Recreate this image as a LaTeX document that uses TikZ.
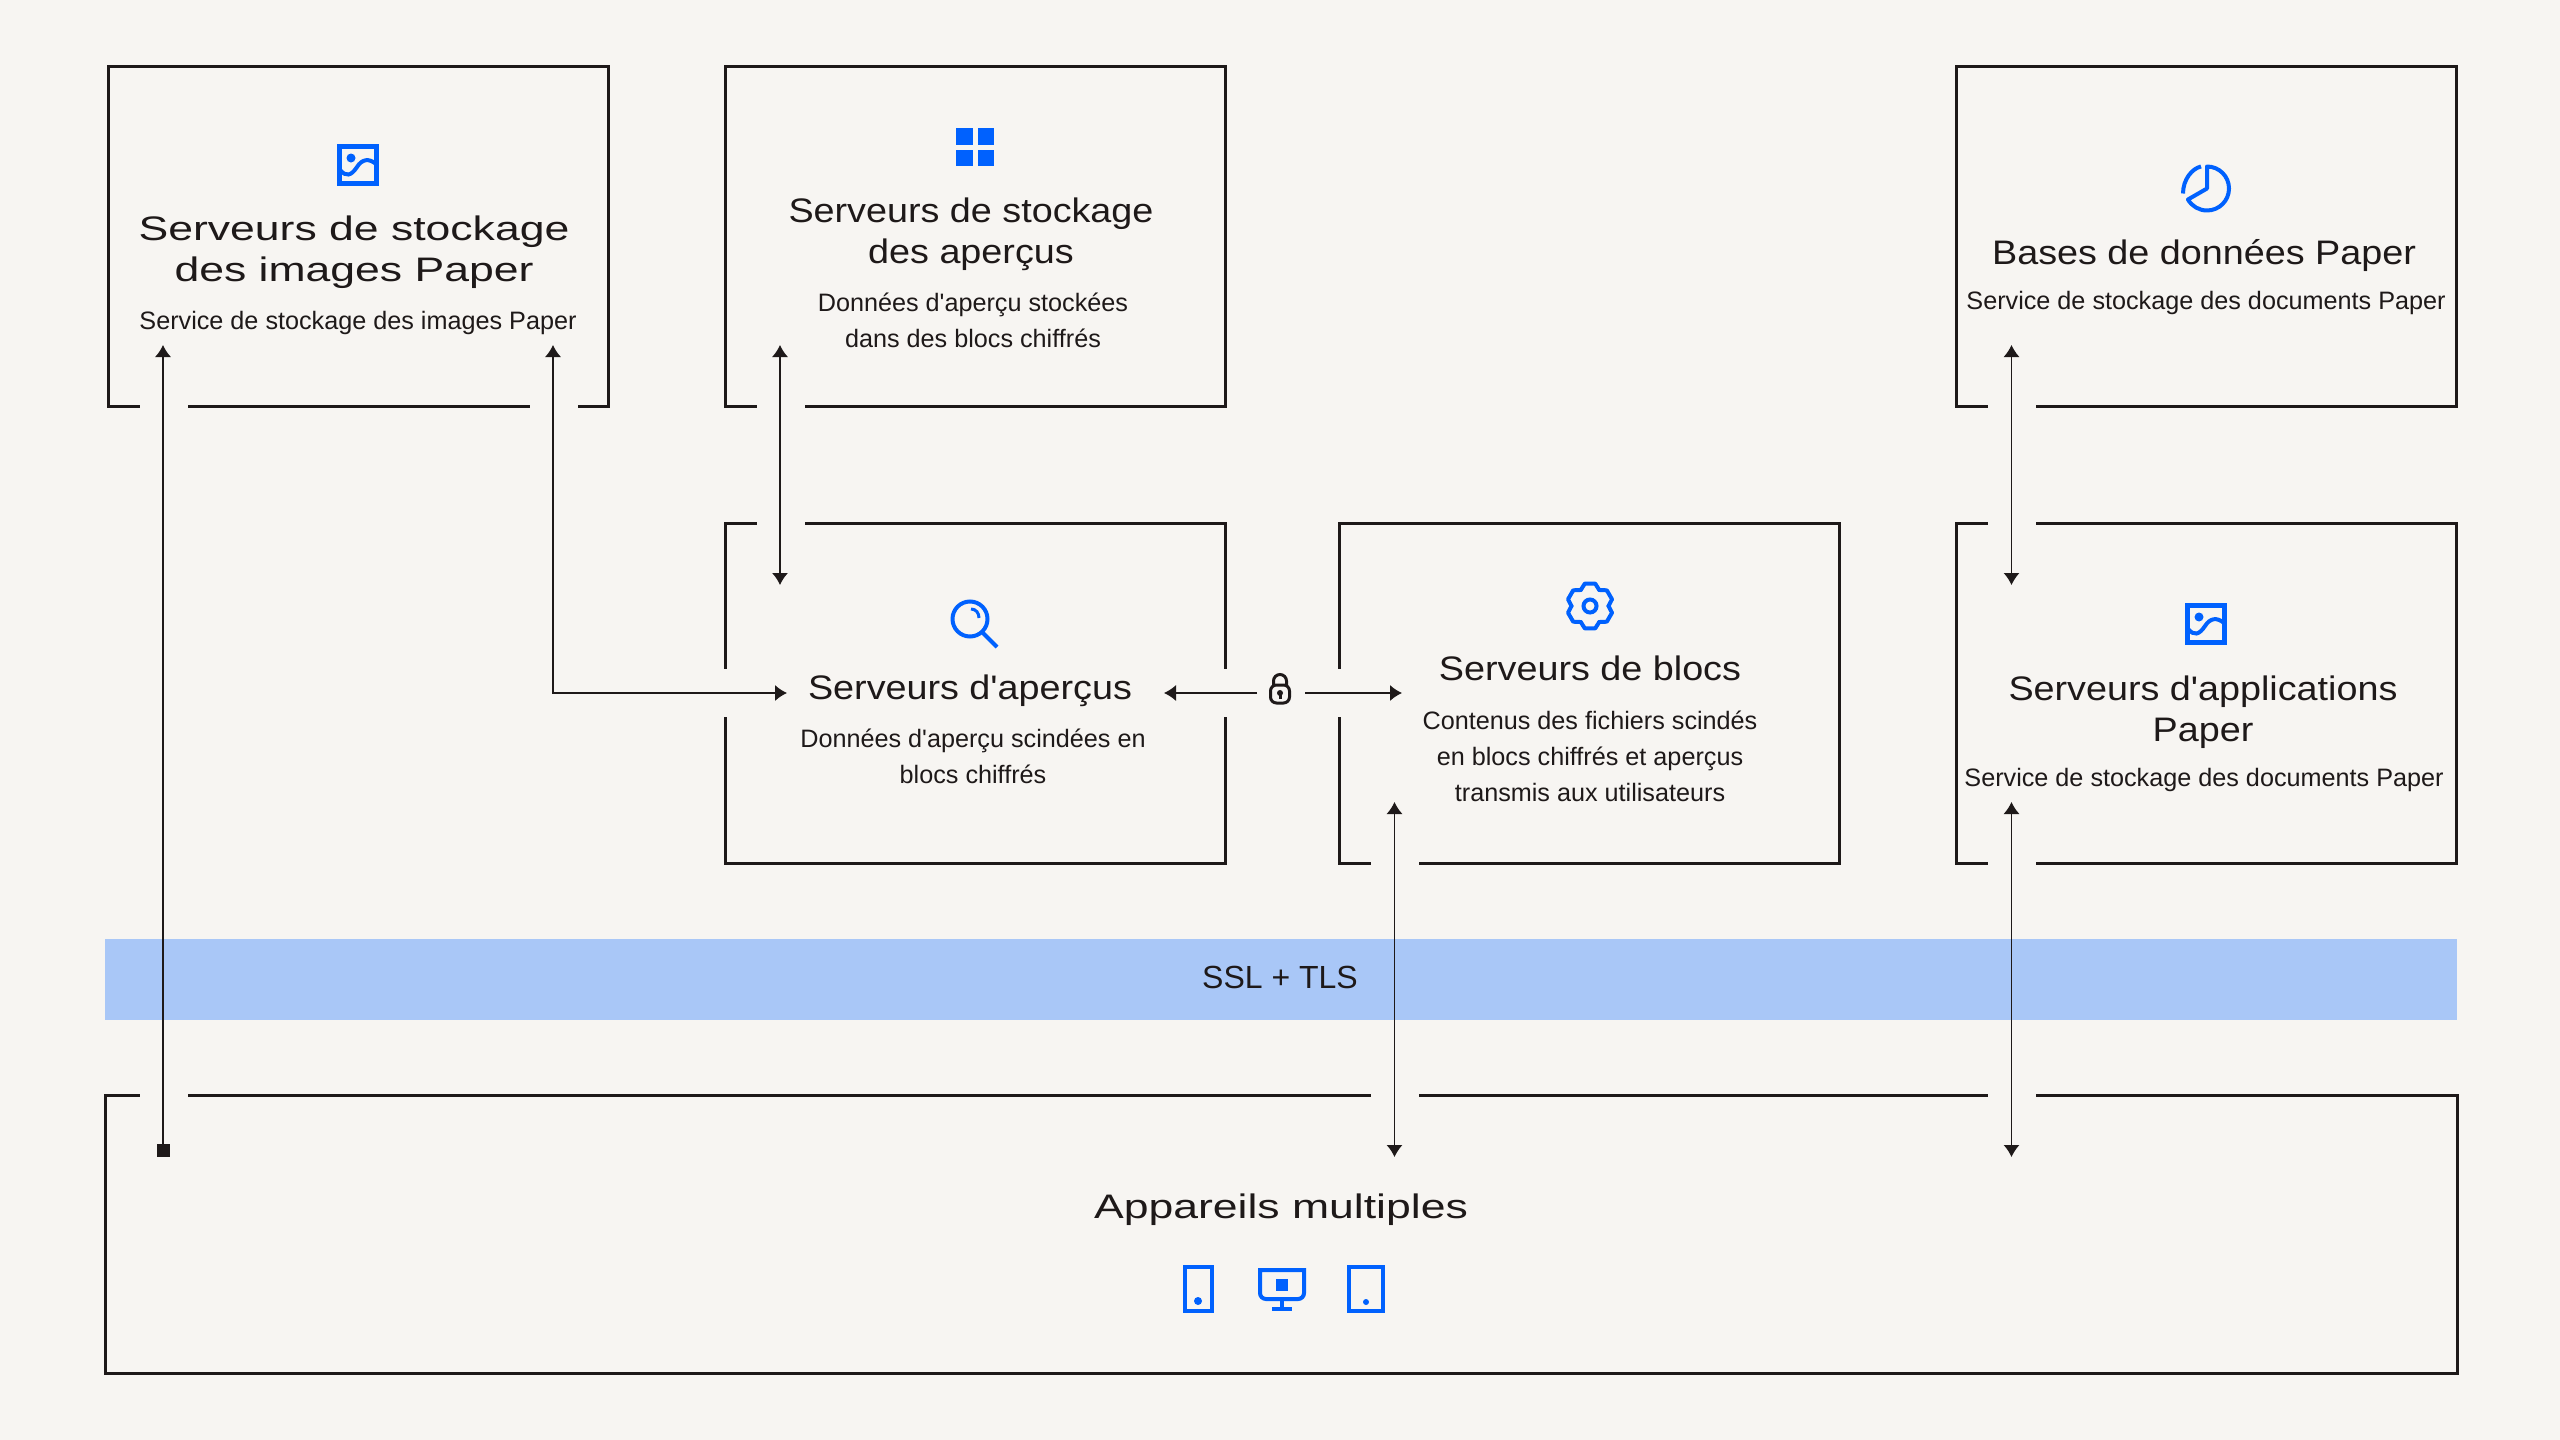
\documentclass[tikz,border=0pt]{standalone}
\usepackage{fontspec}
\usetikzlibrary{arrows.meta}
\newfontfamily\titlefont[FakeStretch=1.11]{Liberation Sans}
\newfontfamily\widefont[FakeStretch=1.31]{Liberation Sans}
\newfontfamily\bodyfont{Liberation Sans}
\definecolor{bg}{HTML}{F7F5F2}
\definecolor{ink}{HTML}{1E1919}
\definecolor{iconblue}{HTML}{0061FE}
\definecolor{bandblue}{HTML}{A9C7F7}
\tikzset{
  box/.style={draw=ink,line width=1.5pt,inner sep=0pt,outer sep=0pt,minimum width=250pt,minimum height=170pt},
  gap/.style={draw=bg,line width=3pt},
  arr/.style={draw=ink,line width=.6pt,-{Latex[length=6pt,width=8pt]}},
  arrs/.style={arr,{Latex[length=6pt,width=8pt]}-{Latex[length=6pt,width=8pt]}},
  titletext/.style={text=ink,align=center,inner sep=0pt,font=\titlefont\fontsize{17}{20.5}\selectfont},
  widetext/.style={titletext,font=\widefont\fontsize{17}{20.5}\selectfont},
  bodytext/.style={text=ink,align=center,inner sep=0pt,font=\bodyfont\fontsize{12.6}{18}\selectfont},
  iconline/.style={draw=iconblue,line width=2pt},
  imageicon/.pic={
    \draw[iconline,line width=2.2pt](-18.5,-18.5)rectangle(18.5,18.5);
    \fill[iconblue](-7,-7)circle[radius=4.5];
    \draw[iconline](-18,5)..controls(-12,12)and(-7,11)..(-1,2)..controls(4,-6)and(11,-7)..(18,-1);
  },
  gridicon/.pic={
    \foreach \i in {-19,2.5}\foreach \j in {-19,2.5}
      \fill[iconblue](\i,\j)rectangle++(16.5,16.5);
  },
  pieicon/.pic={
    \draw[iconline,line join=round](0,-22)arc[start angle=270,end angle=510,radius=22]--(0,0)--cycle;
    \draw[iconline](-6,-22)..controls(-15,-20)and(-24,-9)..(-24,5);
  },
  searchicon/.pic={
    \draw[iconline](0,0)circle[radius=17.5];
    \draw[iconline](12,13)--(27,28);
    \draw[iconline,line width=1.5pt](1,-10)..controls(6,-10)and(9,-6)..(9,-1);
  },
  gearicon/.pic={
    \foreach \a in {30,90,150,210,270,330}
      \draw[iconline,line cap=round,line join=round](\a-30:18.5)--(\a-13:23)--(\a+13:23)--(\a+30:18.5);
    \draw[iconline](0,0)circle[radius=6.5];
  },
  lockicon/.pic={
    \draw[ink,line width=1.5pt,rounded corners=3pt](-9.5,-6)rectangle(9.5,12);
    \draw[ink,line width=1.5pt](-6.5,-6)--(-6.5,-10)arc[start angle=180,end angle=360,radius=6.5]--(6.5,-6);
    \fill[ink](0,2)circle[radius=3];
    \fill[ink](-1.5,2)rectangle(1.5,7.5);
  },
  phoneicon/.pic={
    \draw[iconline,line width=2pt](-13.5,-22)rectangle(13.5,22);
    \fill[iconblue](-.5,12)circle[radius=4];
  },
  tableticon/.pic={
    \draw[iconline,line width=2pt](-17,-22)rectangle(17,22);
    \fill[iconblue](0,13)circle[radius=3];
  },
  screenicon/.pic={
    \draw[iconline](-22,-19.5)--(22,-19.5)--(22,3.5)arc[start angle=0,end angle=90,radius=6]--(-16,9.5)arc[start angle=90,end angle=180,radius=6]--cycle;
    \draw[iconline](0,9.5)--(0,19)(-10,19)--(10,19);
    \fill[iconblue](-6,-11)rectangle(6,1);
  }
}
\begin{document}
\begin{tikzpicture}[x=.5pt,y=-.5pt]
  \fill[bg](0,0)rectangle(2560,1440);
  \fill[bandblue](104.5,939)rectangle(2457,1020);
  % boxes
  \foreach \n/\x/\y in {imgsrv/358.5/236,prevstore/975.5/236,prevsrv/975.5/693,blocksrv/1589.5/693,dbsrv/2206.5/236,appsrv/2206.5/693}{
    \node[box](\n)at(\x,\y){};
  }
  \node[box,minimum width=1176pt,minimum height=139pt](devices)at(1281,1234){};
  % openings in the frames
  \foreach \a/\b/\y in {140/188/406,530/578/406,757/805/406,757/805/523,1371/1419/863,1988/2036/406,1988/2036/523,1988/2036/863,140/188/1095,1371/1419/1095,1988/2036/1095}{
    \draw[gap](\a,\y)--(\b,\y);
  }
  \foreach \x in {725.5,1225.5,1339}{
    \draw[gap](\x,669)--(\x,717);
  }
  % texts
  \foreach \n/\x/\y/\t in {prevtitle/971/234/{Serveurs de stockage\\des aperçus},dbtitle/2204/256/Bases de données Paper,prevsrvtitle/970/691/Serveurs d'aperçus,blocktitle/1590/668/Serveurs de blocs,apptitle/2203/712/{Serveurs d'applications\\Paper}}{
    \node[titletext](\n)at(\x,\y){\t};
  }
  \foreach \n/\x/\y/\t in {imgtitle/354/252/{Serveurs de stockage\\des images Paper},devtitle/1281/1210/Appareils multiples}{
    \node[widetext](\n)at(\x,\y){\t};
  }
  \foreach \n/\x/\y/\t in {imgbody/358/323/Service de stockage des images Paper,prevbody/973/320/{Données d'aperçu stockées\\dans des blocs chiffrés},dbbody/2206/303/Service de stockage des documents Paper,prevsrvbody/973/756/{Données d'aperçu scindées en\\blocs chiffrés},blockbody/1590/756/{Contenus des fichiers scindés\\en blocs chiffrés et aperçus\\transmis aux utilisateurs},appbody/2204/780/Service de stockage des documents Paper}{
    \node[bodytext](\n)at(\x,\y){\t};
  }
  \node[bodytext,font=\bodyfont\fontsize{16}{18}\selectfont](sslband)at(1280,977){SSL + TLS};
  % icons
  \foreach \n/\x/\y/\p in {a/358/165/imageicon,b/975/147/gridicon,c/970/619/searchicon,d/1590/606/gearicon,e/2207/188.5/pieicon,f/2206/624/imageicon,g/1198.5/1289/phoneicon,h/1282/1289.5/screenicon,i/1366/1289/tableticon}{
    \path(\x,\y)pic(\n){\p};
  }
  \path(1280,691)pic(lock){lockicon};
  % connector ends
  \foreach \n/\x/\y in {imgL/163/345,imgR/553/345,devL/163/1150,prevC/787/693,prevT/780/345,prevB/780/585,lockL/1257/693,lockR/1305/693,prevE/1164/693,blockW/1402/693,blockS/1394.5/802,devC/1394.5/1157,dbT/2011.5/345,dbB/2011.5/585,appS/2011.5/802,devR/2011.5/1157}{
    \coordinate(\n)at(\x,\y);
  }
  % connectors
  \draw[arr](devL)--(imgL);
  \node[fill=ink,minimum size=6.5pt,inner sep=0pt](devsquare)at(devL){};
  \draw[arrs](imgR)|-(prevC);
  \draw[arrs](prevT)--(prevB);
  \draw[arr](lockL)--(prevE);
  \draw[arr](lockR)--(blockW);
  \draw[arrs](blockS)--(devC);
  \draw[arrs](dbT)--(dbB);
  \draw[arrs](appS)--(devR);
\end{tikzpicture}
\end{document}
